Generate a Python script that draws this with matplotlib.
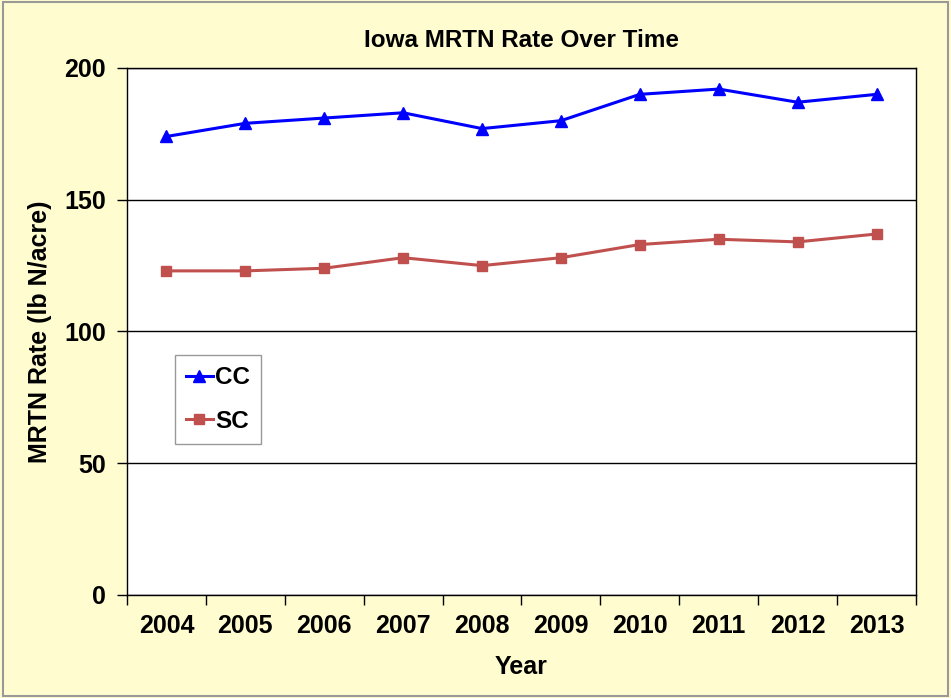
import matplotlib
matplotlib.use("Agg")
import matplotlib.pyplot as plt
import numpy as np

years = ["2004", "2005", "2006", "2007", "2008", "2009", "2010", "2011", "2012", "2013"]
cc = [174, 179, 181, 183, 177, 180, 190, 192, 187, 190]
sc = [123, 123, 124, 128, 125, 128, 133, 135, 134, 137]

plt.rcParams['font.family'] = ['Liberation Sans', 'DejaVu Sans']
bg = '#FFFDD0'
fig = plt.figure(figsize=(9.51, 6.98), dpi=100, facecolor=bg)
ax = fig.add_axes([0.1335, 0.1476, 0.9632 - 0.1335, 0.9026 - 0.1476])
ax.set_facecolor('white')

x = np.arange(len(years))
ax.plot(x, cc, color='#0000FF', lw=2.2, marker='^', ms=8, label='CC')
ax.plot(x, sc, color='#C0504D', lw=2.2, marker='s', ms=7.5, label='SC')

ax.set_xlim(-0.5, len(years) - 0.5)
ax.set_ylim(0, 200)
ax.set_yticks([0, 50, 100, 150, 200])
ax.yaxis.grid(True, color='black', lw=1)
ax.set_axisbelow(True)
ax.set_xticks(x)
ax.set_xticklabels(years)
ax.set_xticks(np.arange(-0.5, len(years)), minor=True)
ax.tick_params(axis='x', which='major', length=0, pad=14, labelsize=18)
ax.tick_params(axis='x', which='minor', length=7, width=1, direction='out')
ax.tick_params(axis='y', length=7, width=1, direction='out', labelsize=18, pad=8)
for lab in ax.get_xticklabels() + ax.get_yticklabels():
    lab.set_fontweight('bold')
for s in ax.spines.values():
    s.set_color('black')
    s.set_linewidth(1)

ax.set_title('Iowa MRTN Rate Over Time', fontsize=17.5, fontweight='bold', pad=15)
ax.set_xlabel('Year', fontsize=18, fontweight='bold', labelpad=12)
ax.set_ylabel('MRTN Rate (lb N/acre)', fontsize=18, fontweight='bold', labelpad=9)

leg = ax.legend(loc='upper left', bbox_to_anchor=(0.061, 0.455),
                prop={'weight': 'bold', 'size': 17.5}, fancybox=False, frameon=True,
                handlelength=1.1, handletextpad=0.1, borderpad=0.45, labelspacing=0.85,
                borderaxespad=0)
leg.get_frame().set_edgecolor('#808080')
leg.get_frame().set_linewidth(1)

fig.patches.append(plt.Rectangle((0.003, 0.003), 0.994, 0.994, transform=fig.transFigure,
                                 fill=False, edgecolor='#999999', lw=1.5))
fig.savefig('out.png', dpi=100, facecolor=bg)
